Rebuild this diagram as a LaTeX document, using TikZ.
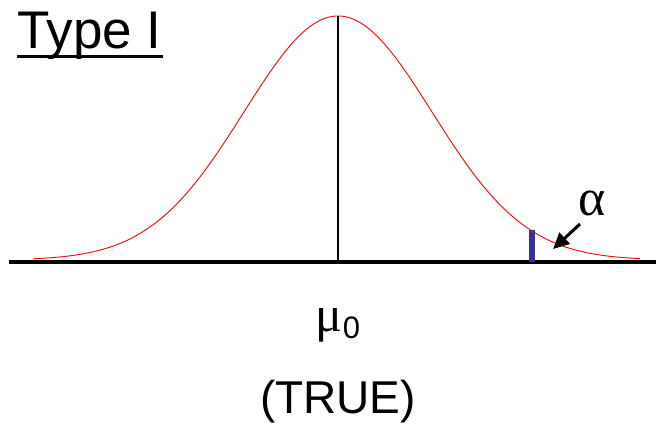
\documentclass[tikz,border=0pt]{standalone}
\usepackage{fontspec}
\setmainfont{Liberation Sans}
\usetikzlibrary{arrows.meta}
\definecolor{barblue}{HTML}{333399}
\tikzset{
  axisline/.style={line width=4pt},
  curve/.style={red, line width=0.9pt},
  bigtext/.style={inner sep=0pt, font=\fontsize{46}{46}\selectfont},
}
\begin{document}
\begin{tikzpicture}[x=1pt,y=-1pt]
\useasboundingbox (0,0) rectangle (656,423);
% baseline axis
\coordinate (axL) at (9,262);
\coordinate (axR) at (656,262);
\draw[axisline] (axL) -- (axR);
% normal curve
\draw[curve] plot[domain=34:640, samples=300, smooth] (\x, {260 - 244*exp(-0.5*((\x-338)/94)^2)});
% mean line
\coordinate (peak) at (338,16);
\coordinate (meanbase) at (338,262);
\draw[line width=2pt] (peak) -- (meanbase);
% alpha bar
\coordinate (barTop) at (532,230);
\coordinate (barBot) at (532,262);
\draw[barblue, line width=6pt] (barTop) -- (barBot);
% alpha label and arrow
\node[anchor=base, inner sep=0pt] (alpha) at (592,215) {\fontspec{Liberation Serif}\fontsize{52}{52}\selectfont α};
\coordinate (arrTail) at (580,224);
\coordinate (arrTip) at (553,249);
\draw[line width=3pt, -{Triangle[length=16pt,width=15pt]}] (arrTail) -- (arrTip);
% title
\node[anchor=base west, inner sep=0pt, font=\fontsize{53}{53}\selectfont] (title) at (17,48) {Type I};
\coordinate (ulL) at (17,56);
\coordinate (ulR) at (163,56);
\draw[line width=3pt] (ulL) -- (ulR);
% mu_0
\node[anchor=base, inner sep=0pt] (mu) at (338,331) {{\fontspec{Liberation Serif}\fontsize{50}{50}\selectfont μ}\raisebox{-7pt}{\fontsize{31}{31}\selectfont 0}};
% (TRUE)
\node[bigtext, anchor=base] (truelbl) at (338,413) {(TRUE)};
\end{tikzpicture}
\end{document}
